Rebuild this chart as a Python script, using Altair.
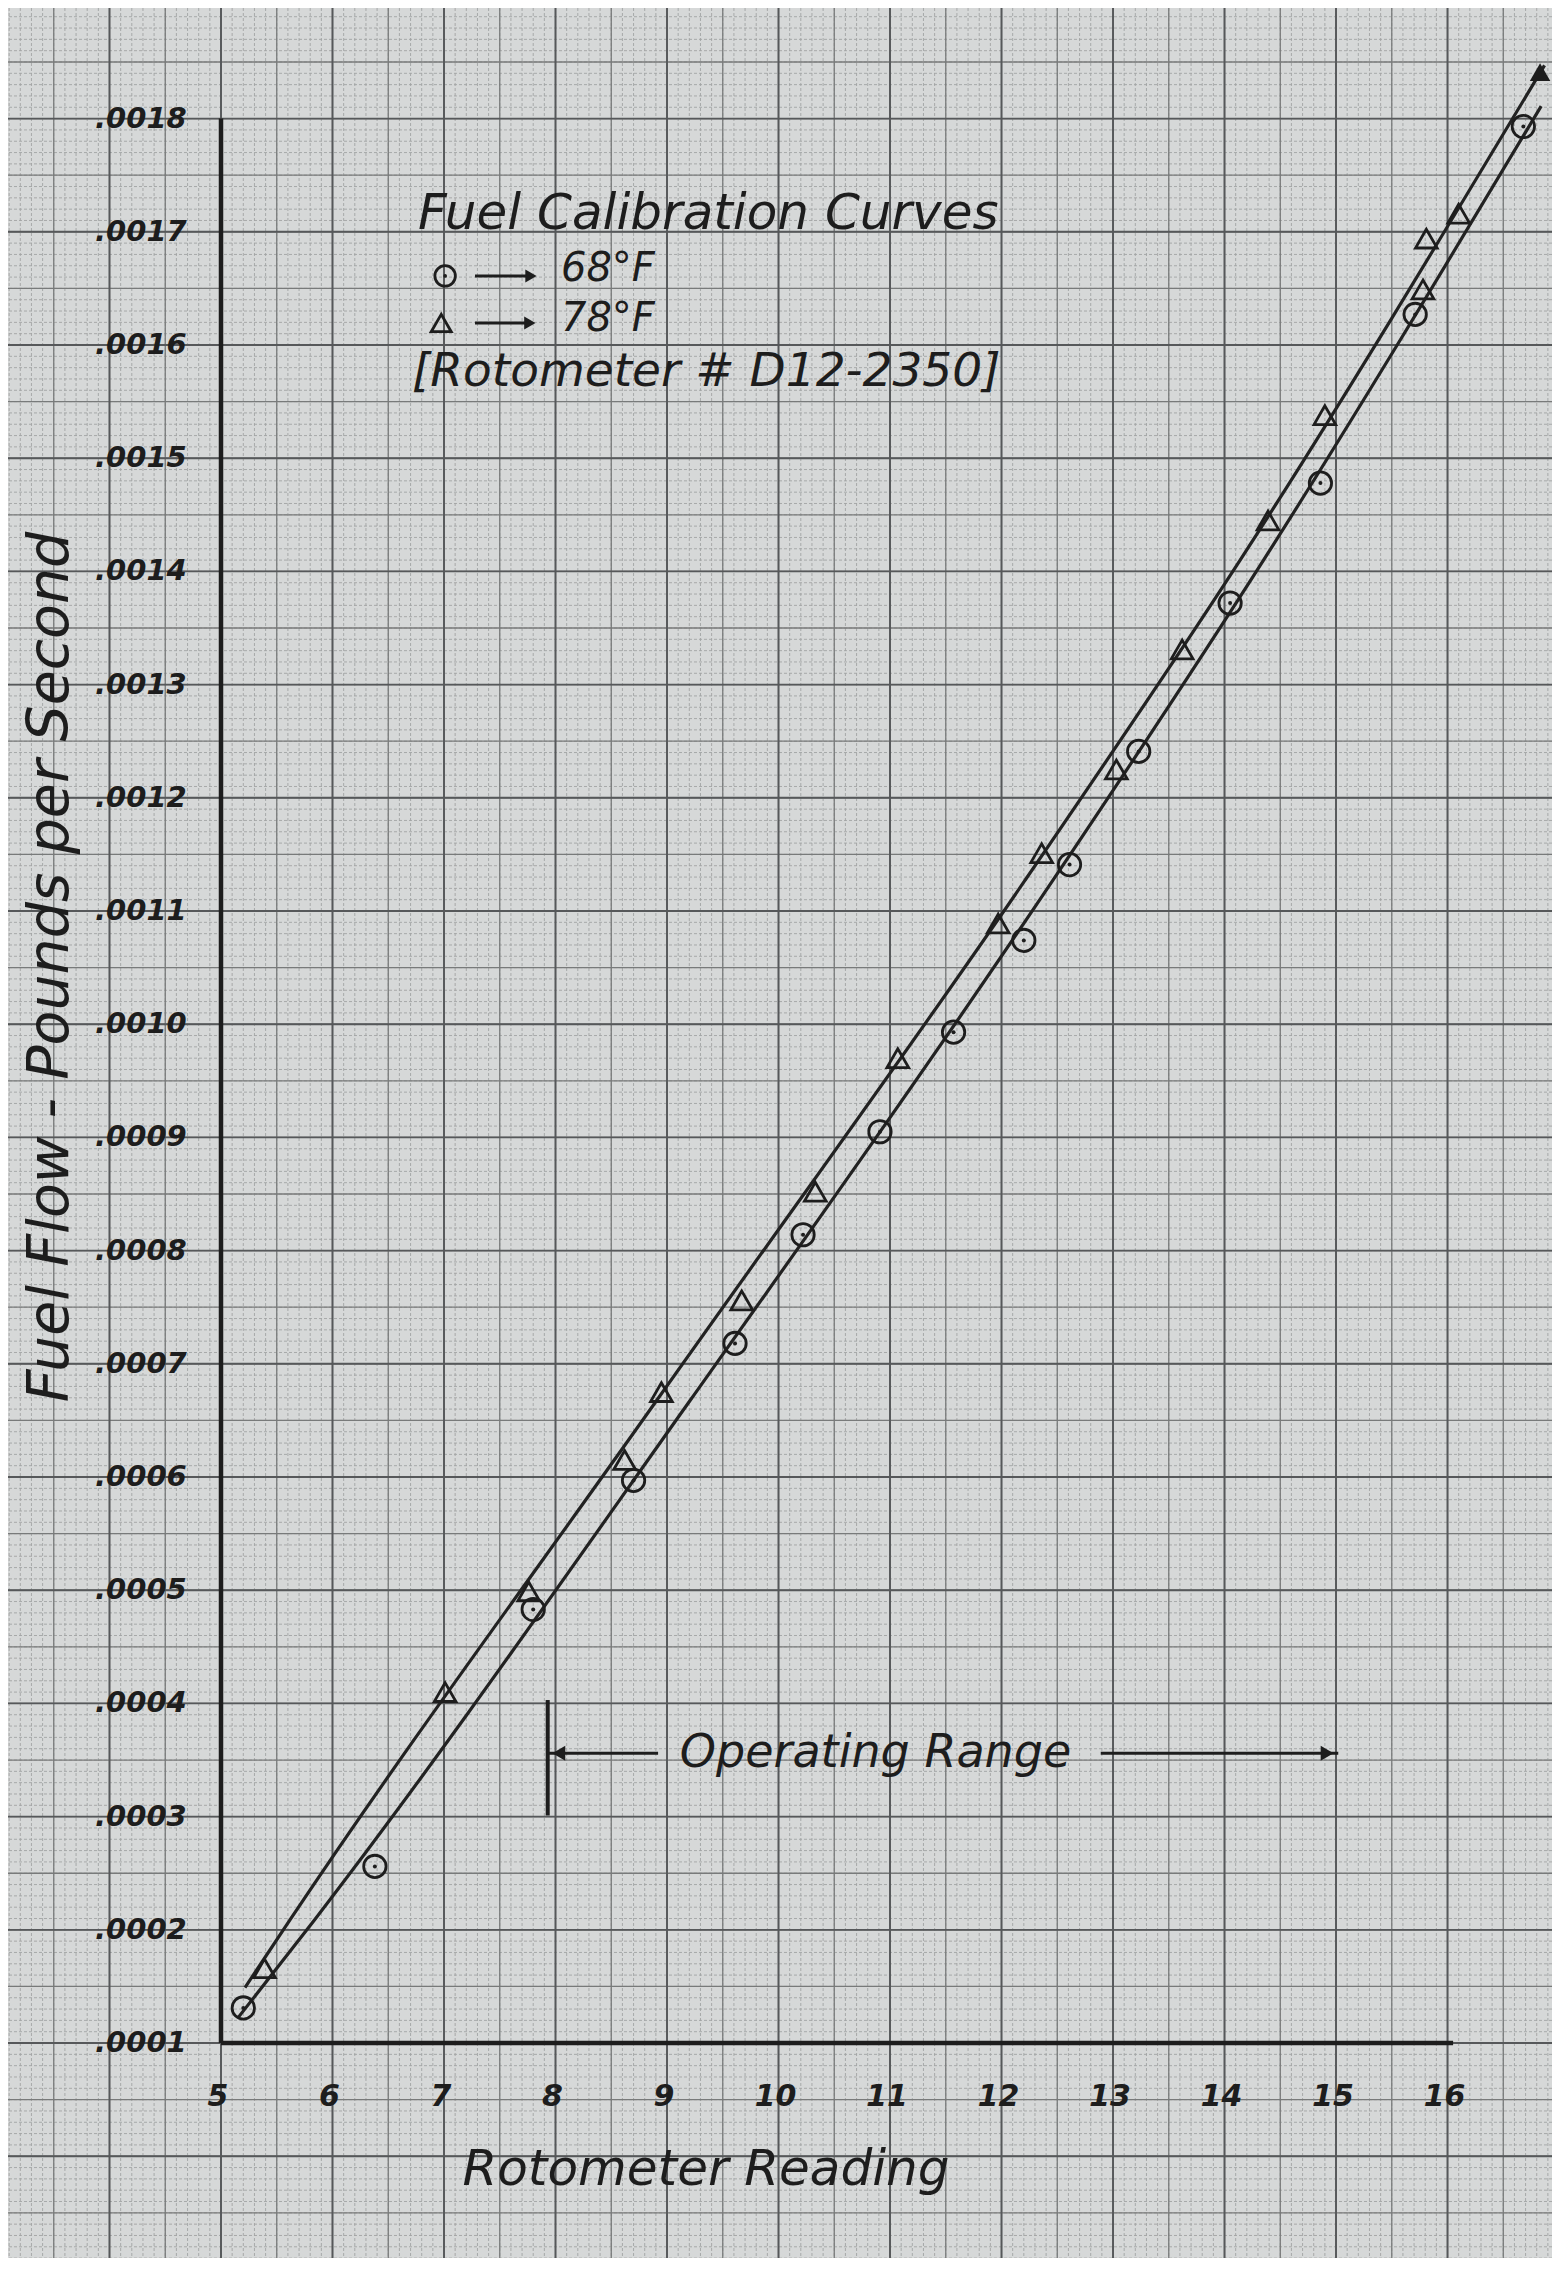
import altair as alt
import pandas as pd

# ---------------- values ----------------
# 68 deg F calibration points (open circles)
circ_x = [5.20, 6.38, 7.80, 8.70, 9.61, 10.22, 10.91, 11.57, 12.20, 12.61, 13.23, 14.05, 14.86, 15.71, 16.68]
circ_y = [0.000131, 0.000256, 0.000483, 0.000597, 0.000718, 0.000814, 0.000905, 0.000993,
          0.001074, 0.001141, 0.001241, 0.001372, 0.001478, 0.001627, 0.001793]

# 78 deg F calibration points (open triangles)
tri_x = [5.39, 7.01, 7.76, 8.62, 8.95, 9.67, 10.33, 11.07, 11.97, 12.36, 13.03, 13.62, 14.39, 14.90, 15.78, 15.81, 16.10]
tri_y = [0.000166, 0.000410, 0.000499, 0.000615, 0.000675, 0.000756, 0.000852, 0.000970, 0.001089,
         0.001151, 0.001225, 0.001331, 0.001445, 0.001538, 0.001649, 0.001694, 0.001716]
tri_end_x = [16.83]
tri_end_y = [0.001841]

# hand-drawn calibration curves
curve68_x = [5.15, 5.84, 9.21, 12.46, 14.35, 16.84]
curve68_y = [0.000122, 0.000209, 0.000668, 0.001127, 0.001410, 0.001811]
curve78_x = [5.215, 5.62, 8.91, 12.21, 14.14, 16.87]
curve78_y = [0.000149, 0.000209, 0.000668, 0.001127, 0.001410, 0.001847]

# axes
x_ticks = [5, 6, 7, 8, 9, 10, 11, 12, 13, 14, 15, 16]
x_tick_labels = ["5", "6", "7", "8", "9", "10", "11", "12", "13", "14", "15", "16"]
y_ticks = [0.0001, 0.0002, 0.0003, 0.0004, 0.0005, 0.0006, 0.0007, 0.0008, 0.0009,
           0.0010, 0.0011, 0.0012, 0.0013, 0.0014, 0.0015, 0.0016, 0.0017, 0.0018]
y_tick_labels = [".0001", ".0002", ".0003", ".0004", ".0005", ".0006", ".0007", ".0008", ".0009",
                 ".0010", ".0011", ".0012", ".0013", ".0014", ".0015", ".0016", ".0017", ".0018"]
x_origin, y_origin = 5.0, 0.0001
x_axis_end, y_axis_end = 16.05, 0.0018
x_title = ["Rotometer Reading"]
x_title_at = (9.35, -0.0000122)
y_title = ["Fuel Flow - Pounds per Second"]
y_title_at = (3.475, 0.0010505)

# legend / notes block
head_text = ["Fuel Calibration Curves"]
head_x, head_y = [6.767], [0.0017157]
ref_text = ["[Rotometer # D12-2350]"]
ref_x, ref_y = [6.713], [0.0015761]
temp_text = ["68°F", "78°F"]
temp_x = [8.049, 8.049]
temp_y = [0.0016671, 0.0016230]
leg_circ_x, leg_circ_y = [7.01], [0.001661]
leg_tri_x, leg_tri_y = [6.975], [0.0016194]
leg_arrow_x = [7.278, 7.278]
leg_arrow_x2 = [7.78, 7.77]
leg_arrow_y = [0.001661, 0.0016194]

# operating range annotation
op_text = ["Operating Range"]
op_lo, op_hi = 7.93, 15.02
op_y = 0.000356
op_bar_y, op_bar_y2 = 0.000301, 0.000403
op_left_end = 8.92
op_right_start = 12.89
op_text_x = 10.87

# graph-paper rulings (data units)
grid_minor_x = [round(3.0 + 0.1 * i, 2) for i in range(141)]
grid_mid_x = [3.0 + 0.5 * i for i in range(29)]
grid_major_x = [float(v) for v in range(3, 18)]
grid_minor_y = [round(-0.0001 + 0.00001 * i, 6) for i in range(201)]
grid_mid_y = [round(-0.0001 + 0.00005 * i, 6) for i in range(41)]
grid_major_y = [round(-0.0001 + 0.0001 * i, 6) for i in range(21)]

# ---------------- styling ----------------
W, H = 1544, 2250
X_DOMAIN = [3.0897, 16.937]
Y_DOMAIN = [-0.0000899, 0.0018977]
PAPER = "#d6d8d8"
INK = "#1d1d1d"
FONT = "DejaVu Sans"

XS = alt.Scale(domain=X_DOMAIN, nice=False, zero=False)
YS = alt.Scale(domain=Y_DOMAIN, nice=False, zero=False)


def X(field):
    return alt.X(field, type="quantitative", scale=XS, axis=None)


def Y(field):
    return alt.Y(field, type="quantitative", scale=YS, axis=None)


def text_layer(df, size, weight="normal", **kw):
    return (alt.Chart(df)
            .mark_text(font=FONT, fontSize=size, fontStyle="italic", fontWeight=weight, color=INK, **kw)
            .encode(x=X("x"), y=Y("y"), text="t:N"))


# ---------------- layers ----------------
def vgrid(vals, color, width, dash=None):
    kw = dict(color=color, strokeWidth=width)
    if dash:
        kw["strokeDash"] = dash
    return alt.Chart(pd.DataFrame({"gx": vals})).mark_rule(**kw).encode(x=X("gx"))


def hgrid(vals, color, width, dash=None):
    kw = dict(color=color, strokeWidth=width)
    if dash:
        kw["strokeDash"] = dash
    return alt.Chart(pd.DataFrame({"gy": vals})).mark_rule(**kw).encode(y=Y("gy"))


grid = [
    vgrid(grid_minor_x, "#a2a4a4", 0.9, [3, 2]),
    hgrid(grid_minor_y, "#a2a4a4", 0.9, [3, 2]),
    vgrid(grid_mid_x, "#787a7a", 1.3),
    hgrid(grid_mid_y, "#787a7a", 1.3),
    vgrid(grid_major_x, "#56585a", 1.9),
    hgrid(grid_major_y, "#56585a", 1.9),
]

axis_lines = [
    alt.Chart(pd.DataFrame({"x": [x_origin], "x2": [x_axis_end], "y": [y_origin]}))
    .mark_rule(color=INK, strokeWidth=4.5).encode(x=X("x"), x2="x2", y=Y("y")),
    alt.Chart(pd.DataFrame({"x": [x_origin], "y": [y_origin], "y2": [y_axis_end]}))
    .mark_rule(color=INK, strokeWidth=4.5).encode(x=X("x"), y=Y("y"), y2="y2"),
]

tick_labels = [
    text_layer(pd.DataFrame({"x": x_ticks, "y": [y_origin] * len(x_ticks), "t": x_tick_labels}),
               30, "bold", align="center", baseline="middle", dy=54, dx=-3),
    text_layer(pd.DataFrame({"x": [x_origin] * len(y_ticks), "y": y_ticks, "t": y_tick_labels}),
               29, "bold", align="left", baseline="middle", dx=-126),
    text_layer(pd.DataFrame({"x": [x_title_at[0]], "y": [x_title_at[1]], "t": x_title}),
               50, align="center", baseline="middle"),
    text_layer(pd.DataFrame({"x": [y_title_at[0]], "y": [y_title_at[1]], "t": y_title}),
               57, align="center", baseline="middle", angle=270),
]

curves = [
    alt.Chart(pd.DataFrame({"x": curve68_x, "y": curve68_y}))
    .mark_line(color="#222222", strokeWidth=3.2, interpolate="monotone").encode(x=X("x"), y=Y("y")),
    alt.Chart(pd.DataFrame({"x": curve78_x, "y": curve78_y}))
    .mark_line(color="#222222", strokeWidth=3.2, interpolate="monotone").encode(x=X("x"), y=Y("y")),
]

circ_df = pd.DataFrame({"x": circ_x, "y": circ_y})
tri_df = pd.DataFrame({"x": tri_x, "y": tri_y})
points = [
    alt.Chart(circ_df).mark_point(shape="circle", filled=False, size=500, strokeWidth=2.8, color=INK, opacity=1)
    .encode(x=X("x"), y=Y("y")),
    alt.Chart(circ_df).mark_point(shape="circle", filled=True, size=16, color=INK, opacity=1)
    .encode(x=X("x"), y=Y("y")),
    alt.Chart(tri_df).mark_point(shape="triangle-up", filled=False, size=470, strokeWidth=2.8, color=INK, opacity=1)
    .encode(x=X("x"), y=Y("y")),
    alt.Chart(pd.DataFrame({"x": tri_end_x, "y": tri_end_y}))
    .mark_point(shape="triangle-up", filled=True, size=420, color=INK, opacity=1)
    .encode(x=X("x"), y=Y("y")),
]

notes = [
    text_layer(pd.DataFrame({"x": head_x, "y": head_y, "t": head_text}), 50, align="left", baseline="middle"),
    text_layer(pd.DataFrame({"x": ref_x, "y": ref_y, "t": ref_text}), 47, align="left", baseline="middle"),
    text_layer(pd.DataFrame({"x": temp_x, "y": temp_y, "t": temp_text}), 40, align="left", baseline="middle"),
    alt.Chart(pd.DataFrame({"x": leg_circ_x, "y": leg_circ_y}))
    .mark_point(shape="circle", filled=False, size=420, strokeWidth=2.8, color=INK, opacity=1)
    .encode(x=X("x"), y=Y("y")),
    alt.Chart(pd.DataFrame({"x": leg_circ_x, "y": leg_circ_y}))
    .mark_point(shape="circle", filled=True, size=14, color=INK, opacity=1)
    .encode(x=X("x"), y=Y("y")),
    alt.Chart(pd.DataFrame({"x": leg_tri_x, "y": leg_tri_y}))
    .mark_point(shape="triangle-up", filled=False, size=400, strokeWidth=2.8, color=INK, opacity=1)
    .encode(x=X("x"), y=Y("y")),
    alt.Chart(pd.DataFrame({"x": leg_arrow_x, "x2": leg_arrow_x2, "y": leg_arrow_y}))
    .mark_rule(color=INK, strokeWidth=3).encode(x=X("x"), x2="x2", y=Y("y")),
    alt.Chart(pd.DataFrame({"x": leg_arrow_x2, "y": leg_arrow_y}))
    .mark_point(shape="triangle-right", filled=True, size=170, color=INK, opacity=1)
    .encode(x=X("x"), y=Y("y")),
]

oprange = [
    alt.Chart(pd.DataFrame({"x": [op_lo], "y": [op_bar_y], "y2": [op_bar_y2]}))
    .mark_rule(color=INK, strokeWidth=4).encode(x=X("x"), y=Y("y"), y2="y2"),
    alt.Chart(pd.DataFrame({"x": [op_lo, op_right_start], "x2": [op_left_end, op_hi], "y": [op_y, op_y]}))
    .mark_rule(color=INK, strokeWidth=3).encode(x=X("x"), x2="x2", y=Y("y")),
    alt.Chart(pd.DataFrame({"x": [op_lo + 0.1], "y": [op_y]}))
    .mark_point(shape="triangle-left", filled=True, size=220, color=INK, opacity=1)
    .encode(x=X("x"), y=Y("y")),
    alt.Chart(pd.DataFrame({"x": [op_hi - 0.1], "y": [op_y]}))
    .mark_point(shape="triangle-right", filled=True, size=220, color=INK, opacity=1)
    .encode(x=X("x"), y=Y("y")),
    text_layer(pd.DataFrame({"x": [op_text_x], "y": [op_y], "t": op_text}), 46, align="center", baseline="middle"),
]

chart = (
    alt.layer(*grid, *axis_lines, *tick_labels, *curves, *points, *notes, *oprange)
    .properties(width=W, height=H, padding=0, background=PAPER,
                autosize=alt.AutoSizeParams(type="none"))
    .configure_view(stroke=None)
)

chart.save("out.html", embed_options={"renderer": "svg", "actions": False})
